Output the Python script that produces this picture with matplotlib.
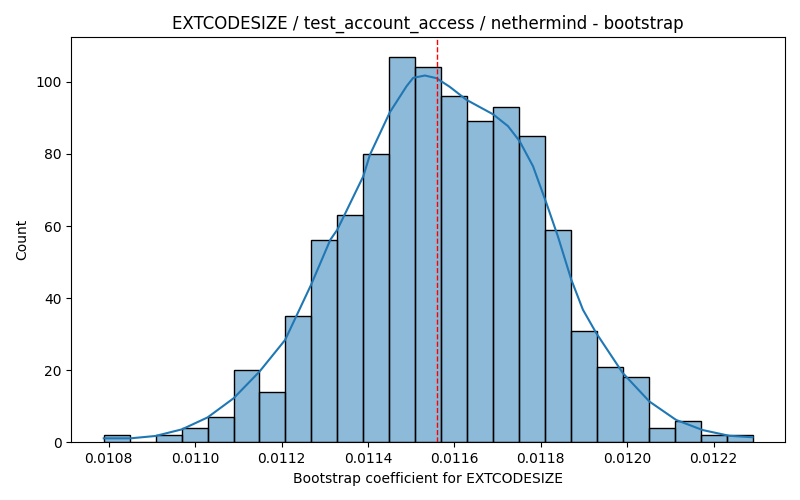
import numpy as np
import matplotlib
matplotlib.use("Agg")
import matplotlib.pyplot as plt
from matplotlib.colors import to_rgba

# ==============================
# Dados
# ==============================
bin_lo = 0.0107884
bin_hi = 0.0122901
counts = [2, 0, 2, 4, 7, 20, 14, 35, 56, 63, 80, 107, 104,
          96, 89, 93, 85, 59, 31, 21, 18, 4, 6, 2, 2]

kde_x = [0.0107884, 0.0108501, 0.0109079, 0.0109696, 0.0110287, 0.0110888,
         0.0111488, 0.0112082, 0.0112683, 0.0113129, 0.0113291, 0.0113891,
         0.0114046, 0.0114508, 0.0114894, 0.0115046, 0.0115317, 0.0115587,
         0.0115894, 0.0116280, 0.0116894, 0.0117241, 0.0117511, 0.0117819,
         0.0118128, 0.0118396, 0.0118706, 0.0118974, 0.0119283, 0.0119898,
         0.0120515, 0.0121132, 0.0121746, 0.0122363, 0.0122901]
kde_y = [1.1, 1.1, 1.75, 3.6, 6.9, 12.2,
         19.6, 28.4, 43.7, 56.2, 59.0, 73.8,
         79.8, 91.6, 98.8, 101.1, 101.75, 101.0,
         98.6, 95.0, 91.0, 87.7, 83.5, 76.6,
         66.4, 57.1, 45.1, 36.8, 30.3, 19.2,
         11.3, 6.2, 3.4, 1.8, 1.4]

mean_value = 0.0115587

title = "EXTCODESIZE / test_account_access / nethermind - bootstrap"
xlabel = "Bootstrap coefficient for EXTCODESIZE"
ylabel = "Count"

# ==============================
# Gráfico
# ==============================
edges = np.linspace(bin_lo, bin_hi, len(counts) + 1)

fig, ax = plt.subplots(figsize=(8, 5), dpi=100)
fig.subplots_adjust(left=71.3 / 800, right=785 / 800,
                    top=1 - 37.3 / 500, bottom=1 - 442.3 / 500)

ax.bar(edges[:-1], counts, width=np.diff(edges), align="edge",
       facecolor=to_rgba("C0", 0.5), edgecolor="black", linewidth=1)
ax.plot(kde_x, kde_y, color="C0", linewidth=1.5)
ax.axvline(mean_value, color="red", linestyle="--", linewidth=1)

ax.set_title(title)
ax.set_xlabel(xlabel)
ax.set_ylabel(ylabel)
ax.set_xticks([0.0108, 0.0110, 0.0112, 0.0114, 0.0116, 0.0118, 0.0120, 0.0122])

fig.savefig("out.png")
